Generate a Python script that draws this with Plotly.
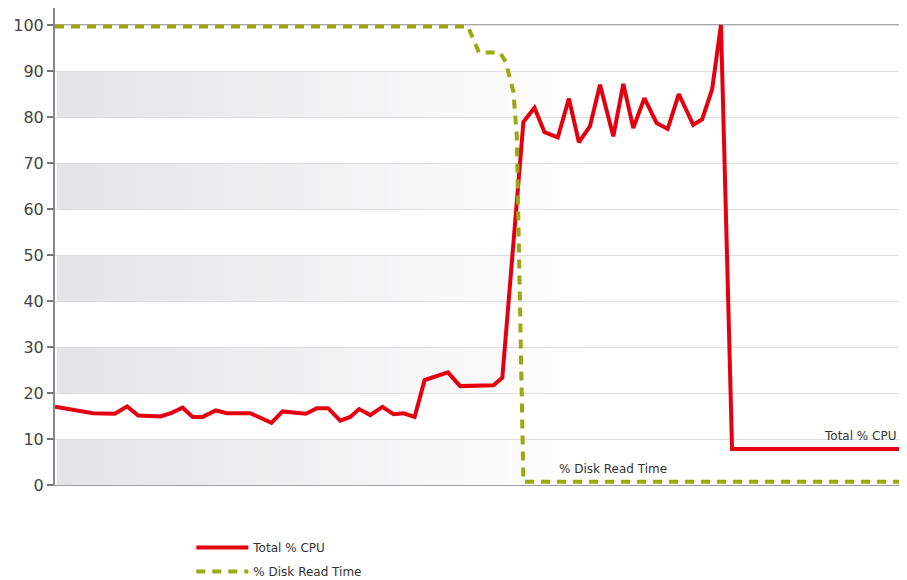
import plotly.graph_objects as go

# Sample index (time) and values
cpu_t = [0, 3.4, 5.4, 6.5, 7.5, 9.5, 10.5, 11.5, 12.4, 13.3, 14.5, 15.5, 17.6, 19.5,
         20.5, 22.6, 23.6, 24.6, 25.7, 26.6, 27.4, 28.4, 29.5, 30.5, 31.4, 32.4,
         33.3, 35.4, 36.5, 39.5, 40.3, 42.2, 43.2, 44.1, 45.3, 46.3, 47.2, 48.2,
         49.1, 50.3, 51.2, 52.1, 53.1, 54.2, 55.2, 56.2, 57.5, 58.3, 59.2, 60.0,
         61.0, 76.8]
cpu_v = [17.0, 15.6, 15.5, 17.1, 15.1, 14.9, 15.7, 16.8, 14.8, 14.8, 16.2, 15.6, 15.6, 13.5,
         16.0, 15.5, 16.7, 16.7, 14.0, 14.8, 16.5, 15.2, 17.0, 15.4, 15.6, 14.8,
         22.8, 24.5, 21.5, 21.7, 23.3, 78.9, 82.0, 76.7, 75.6, 84.0, 74.5, 78.0,
         87.0, 75.8, 87.2, 77.6, 84.1, 78.7, 77.4, 85.0, 78.3, 79.5, 86.0, 100.0,
         7.8, 7.8]

disk_t = [0, 37.2, 38.2, 40.1, 40.6, 41.3, 41.6, 42.2, 76.8]
disk_v = [99.7, 99.7, 94.0, 94.0, 92.0, 85.5, 76.0, 0.7, 0.7]

y_ticks = [0, 10, 20, 30, 40, 50, 60, 70, 80, 90, 100]
band_ranges = [(0, 10), (20, 30), (40, 50), (60, 70), (80, 90)]

RED = "#e4000f"
GREEN = "#9ca90c"
FONT = "DejaVu Sans"

fig = go.Figure()
fig.add_trace(go.Scatter(x=cpu_t, y=cpu_v, mode="lines", name="Total % CPU",
                         legendgroup="cpu",
                         line=dict(color=RED, width=4)))
fig.add_trace(go.Scatter(x=disk_t, y=disk_v, mode="lines", name="% Disk Read Time",
                         legendgroup="disk",
                         line=dict(color=GREEN, width=4, dash="9px,7px")))

# Gradient bands (gray on the left fading to white)
shapes = []
n = 40
fade_end = 0.62
c0 = (227, 228, 230)
for (y0, y1) in band_ranges:
    for i in range(n):
        f = i / n
        col = tuple(int(round(c + (255 - c) * f)) for c in c0)
        shapes.append(dict(type="rect", xref="paper", yref="y", layer="below",
                           x0=0.002 + fade_end * i / n, x1=0.002 + fade_end * (i + 1) / n + 0.002,
                           y0=y0, y1=y1, fillcolor="rgb(%d,%d,%d)" % col,
                           line=dict(width=0)))
# darker top line at 100
shapes.append(dict(type="line", xref="paper", yref="y", x0=0, x1=1, y0=100, y1=100,
                   line=dict(color="#a8a8a8", width=2), layer="below"))
fig.update_layout(shapes=shapes)

fig.add_annotation(text="Total % CPU", xref="paper", yref="y", x=1, y=10.7,
                   xanchor="right", yanchor="middle", showarrow=False, xshift=-9,
                   font=dict(family=FONT, size=12, color="#333"))
fig.add_annotation(text="% Disk Read Time", xref="paper", yref="y", x=0.589, y=3.5,
                   xanchor="left", yanchor="middle", showarrow=False,
                   font=dict(family=FONT, size=12, color="#333"))

H = 572
fig.update_layout(
    width=899, height=H,
    margin=dict(l=47, r=0, t=0, b=H - 477),
    paper_bgcolor="white", plot_bgcolor="white",
    font=dict(family=FONT, color="#444"),
    xaxis=dict(range=[0, 76.76], showgrid=False, zeroline=False, showticklabels=False,
               ticks="", showline=True, linecolor="#a0a0a0", linewidth=1),
    yaxis=dict(range=[0, 103.7], tickvals=y_ticks, showgrid=True, gridcolor="#dedede",
               gridwidth=1, zeroline=False, showline=True, linecolor="#8a8a8a", linewidth=2,
               ticks="outside", ticklen=6, tickwidth=2, tickcolor="#777",
               tickfont=dict(family=FONT, size=16, color="#444")),
    showlegend=True,
    legend=dict(x=0.16, xref="paper", y=1 - 525 / H, yref="container", xanchor="left",
                yanchor="top", orientation="v",
                font=dict(family=FONT, size=12, color="#333"), itemwidth=52,
                tracegroupgap=5, bgcolor="rgba(0,0,0,0)"),
)

fig.write_html("out.html")
